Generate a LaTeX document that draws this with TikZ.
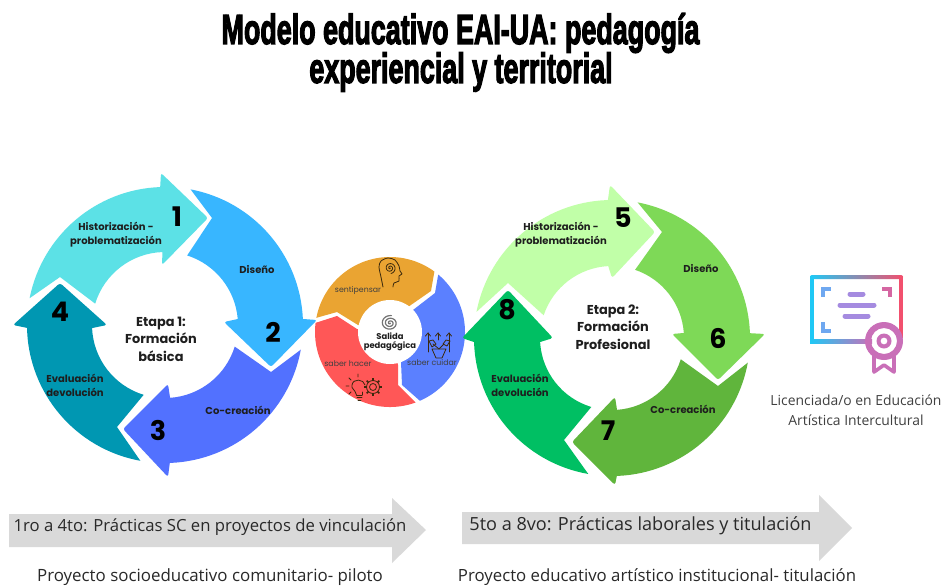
\documentclass[tikz,border=0pt]{standalone}
\usepackage{fontspec}
\usepackage{graphicx}
\setmainfont{Open Sans}
\newfontfamily\titlefont[FakeBold=3.5]{Liberation Sans Bold}
\newfontfamily\popfont{Poppins}[BoldFont={Poppins Bold}]
\usetikzlibrary{calc}
\definecolor{cA}{HTML}{5CE1E6}
\definecolor{cB}{HTML}{38B6FF}
\definecolor{cC}{HTML}{5271FF}
\definecolor{cD}{HTML}{0097B2}
\definecolor{gA}{HTML}{C1FFA8}
\definecolor{gB}{HTML}{7ED957}
\definecolor{gC}{HTML}{60B53C}
\definecolor{gD}{HTML}{00BF63}
\definecolor{sO}{HTML}{EAA432}
\definecolor{sR}{HTML}{FF5757}
\definecolor{sB}{HTML}{5B80FF}
\definecolor{ink}{HTML}{1E1E1E}
\definecolor{band}{HTML}{D9D9D9}
\definecolor{kA}{HTML}{1FC8F5}
\definecolor{kB}{HTML}{6FA8F0}
\definecolor{kC}{HTML}{A58BE0}
\definecolor{kD}{HTML}{C96FB8}
\definecolor{kE}{HTML}{F2506E}
\tikzset{
 lab/.style={font=\popfont\bfseries\fontsize{10}{11.5}\selectfont,text=ink,inner sep=0pt,align=center},
 etapa/.style={font=\popfont\bfseries\fontsize{12.9}{17.6}\selectfont,text=ink,inner sep=0pt,align=center},
 num/.style={font=\popfont\bfseries\fontsize{27}{28}\selectfont,text=black,inner sep=0pt},
 smalllab/.style={font=\popfont\fontsize{7.8}{9}\selectfont,text=ink!85,inner sep=0pt},
 bandtext/.style={font=\fontsize{16.7}{18}\selectfont,text=ink!95,inner sep=0pt},
 captext/.style={font=\fontsize{13.9}{20}\selectfont,text=ink!85,inner sep=0pt,align=center},
 iconline/.style={draw=black!75!sO,line width=0.8pt,line cap=round,line join=round}
}
\newcommand{\ringarrow}[9]{%
 \fill[#2] ($(#1)+(#3:\Ro)$) arc[start angle=#3,end angle=#4,radius=\Ro]
   [rounded corners=2.5pt] -- (#7) -- (#8) -- (#9) [sharp corners] -- ($(#1)+(#5:\Ri)$)
   arc[start angle=#5,end angle=#6,radius=\Ri] -- (\notchpt) -- cycle;}
\begin{document}
\begin{tikzpicture}[x=1pt,y=1pt,yscale=-1]
\useasboundingbox (0,0) rectangle (943,587);
\fill[white] (0,0) rectangle (943,587);
\def\Ro{138}\def\Ri{73}

% small central ring
\coordinate (s) at (390,332);
\fill[sO] ($(s)+(190.9:75)$) arc[start angle=190.9,end angle=306.3,radius=75] -- (431,291) -- (408,307) -- (s) -- (358,325) -- (337,312) -- cycle;
\fill[sB] ($(s)+(-50:75)$) arc[start angle=-50,end angle=66.5,radius=75] -- (402,385) -- (401,362) -- (s) -- (413,310) -- (435,293) -- cycle;
\fill[sR] ($(s)+(70:75)$) arc[start angle=70,end angle=187,radius=75] -- (337,316) -- (357,329) -- (s) -- (398,365) -- (398,385) -- cycle;
\fill[white] (s) circle[radius=32];

% ring 1
\coordinate (c1) at (165,325);
\def\notchpt{60,277}\ringarrow{c1}{cA}{191.2}{268}{268}{197}{161,173}{208,218}{162,265}
\def\notchpt{212,218}\ringarrow{c1}{cB}{-79.3}{-2.5}{-4.7}{-72.3}{317,320}{271,367}{224,322}
\def\notchpt{271,372}\ringarrow{c1}{cC}{10.3}{88}{86}{17.2}{168,477}{123,429}{168,384}
\def\notchpt{117,427}\ringarrow{c1}{cD}{100.3}{178.8}{177.6}{107}{13,325}{60,283}{107,325}

% ring 2
\def\Ri{72}
\coordinate (c2) at (612,338);
\def\notchpt{508,283}\ringarrow{c2}{gA}{190.9}{268.3}{267}{198.4}{610,185}{655,232}{612,278}
\def\notchpt{662,232}\ringarrow{c2}{gB}{-79.3}{-2}{-4}{-71.3}{765,334}{718,380}{672,334}
\def\notchpt{718,386}\ringarrow{c2}{gC}{10.3}{88}{86}{17.2}{615,485}{572,442}{615,397}
\def\notchpt{564,440}\ringarrow{c2}{gD}{99.9}{178.3}{176.8}{106.7}{462,338}{508,290}{553,338}

% head icon
\draw[iconline] plot[smooth] coordinates {(383,287) (381,277) (379,267) (381,261) (388,258) (395,260) (399,266) (400,271) (402,274) (399,276) (399,281) (394,283) (393,287)};
\draw[iconline] plot[domain=0:800,samples=50,smooth] ({390+0.007*\x*cos(\x)},{268+0.007*\x*sin(\x)});
% centre spiral
\draw[black!55,line width=1.2pt,line cap=round] plot[domain=30:1000,samples=70,smooth] ({390+0.0085*\x*cos(\x)},{323+0.0075*\x*sin(\x)});
% plant icon
\foreach \xx/\yy in {428/352,438/340,449/352}{
 \draw[iconline] (\xx,333) -- (\xx,\yy);
 \draw[iconline] (\xx-2.5,336) -- (\xx,333) -- (\xx+2.5,336);}
\draw[iconline] (432,349) -- (446,349) -- (442,358) -- (436,358) -- cycle;
\draw[iconline] (439,349) -- (433,344) (439,349) -- (444,344);
\draw[iconline] (429,341) -- (433,340) -- (436,344) -- (432,347) -- cycle;
\draw[iconline] (443,344) -- (446,340) -- (450,341) -- (447,346) -- cycle;
% bulb + gear icon
\draw[iconline] (356.5,395) .. controls (355,389) and (351,389) .. (352,385) .. controls (353,378) and (364,379) .. (365,385);
\draw[iconline] (356.5,395) -- (362,395) (357,397.5) -- (362,397.5) (358,400) -- (361,400) (362,395) -- (362,392);
\draw[iconline] (358,374) -- (358,377) (349,378) -- (351,380) (346,386) -- (349,386) (349,394) -- (351,392);
\draw[iconline] (373,387) circle[radius=3.5];
\draw[iconline] (373,387) circle[radius=6.5];
\foreach \aa in {0,45,...,315}{\draw[black!75!sO,line width=1.6pt] ($(373,387)+(\aa:6.5)$) -- ($(373,387)+(\aa:9)$);}

% gray bands
\fill[band] (9,514) -- (392,514) -- (392,498) -- (426,530) -- (392,563) -- (392,547) -- (9,547) -- cycle;
\fill[band] (462,512) -- (819,512) -- (819,495) -- (852,528) -- (819,561) -- (819,544) -- (462,544) -- cycle;

% certificate
\shade[left color=kA,right color=kE,rounded corners=2pt] (810,275) rectangle (903,279);
\fill[kA] (810,276) rectangle (814,343);
\shade[left color=kA,right color=kD] (810,339) rectangle (872,343);
\fill[kE] (899,276) rectangle (903,338);
\fill[kD,even odd rule] (884,341) circle[radius=19] (884,341) circle[radius=13];
\fill[kD,even odd rule] (884,341) circle[radius=7.5] (884,341) circle[radius=3.5];
\draw[kD,line width=3.6pt,line cap=round,line join=round] (874,356) -- (874,372) -- (884,365) -- (894,372) -- (894,356);
\fill[kB] (821,287) rectangle (825,297);
\fill[kB] (821,287) rectangle (831,291);
\fill[kD!70!kE] (888,287) rectangle (892,297);
\fill[kD!70!kE] (882,287) rectangle (892,291);
\fill[kB] (821,322) rectangle (825,333);
\fill[kB] (821,329) rectangle (831,333);
\draw[kC,line width=5pt,line cap=round] (850,294) -- (863,294);
\draw[kC,line width=5pt,line cap=round] (840,305) -- (874,305);
\draw[kC,line width=5pt,line cap=round] (845,316) -- (868,316);

% title
\node[inner sep=0pt] (t1) at (460.5,33) {\scalebox{0.64}[1]{\titlefont\fontsize{42}{44}\selectfont Modelo educativo EAI-UA: pedagogía}};
\node[inner sep=0pt] (t2) at (461,72) {\scalebox{0.64}[1]{\titlefont\fontsize{42}{44}\selectfont experiencial y territorial}};

% ring 1 labels
\node[lab] (h1) at (116,235) {Historización -\\[2.5pt]problematización};
\node[lab] (d1) at (257,270) {Diseño};
\node[lab] (co1) at (238,410) {Co-creación};
\node[lab] (e1) at (75,385) {Evaluación\\[2.5pt]devolución};
\node[etapa] (et1) at (161,339) {Etapa 1:\\Formación\\básica};
\node[num] (n1) at (177,217) {1};
\node[num] (n2) at (273,332) {2};
\node[num] (n3) at (158,430) {3};
\node[num] (n4) at (60,312) {4};

% small ring labels
\node[smalllab] (sa) at (358,291) {sentipensar};
\node[smalllab] (sb) at (348,364) {saber hacer};
\node[smalllab] (sc) at (432,363) {saber cuidar};
\node[lab,font=\popfont\bfseries\fontsize{8.4}{8.6}\selectfont] (sd) at (390,342) {Salida\\pedagógica};

% ring 2 labels
\node[lab] (h2) at (561,235) {Historización -\\[2.5pt]problematización};
\node[lab] (d2) at (701,269) {Diseño};
\node[lab] (co2) at (683,409) {Co-creación};
\node[lab] (e2) at (520,385) {Evaluación\\[2.5pt]devolución};
\node[etapa] (et2) at (613,327) {Etapa 2:\\Formación\\Profesional};
\node[num] (n5) at (623,218) {5};
\node[num] (n6) at (718,338) {6};
\node[num] (n7) at (608,431) {7};
\node[num] (n8) at (507,310) {8};

% bottom + right text
\node[captext] (li) at (856,410) {Licenciada/o en Educación\\Artística Intercultural};
\node[bandtext] (b1) at (210,527) {1ro a 4to: Prácticas SC en proyectos de vinculación};
\node[bandtext,font=\fontsize{18.1}{20}\selectfont] (b2) at (640.5,526) {5to a 8vo: Prácticas laborales y titulación};
\node[bandtext,font=\fontsize{16.9}{18}\selectfont] (p1) at (210,577) {Proyecto socioeducativo comunitario- piloto};
\node[bandtext,font=\fontsize{16.8}{18}\selectfont] (p2) at (657,577) {Proyecto educativo artístico institucional- titulación};
\end{tikzpicture}
\end{document}
